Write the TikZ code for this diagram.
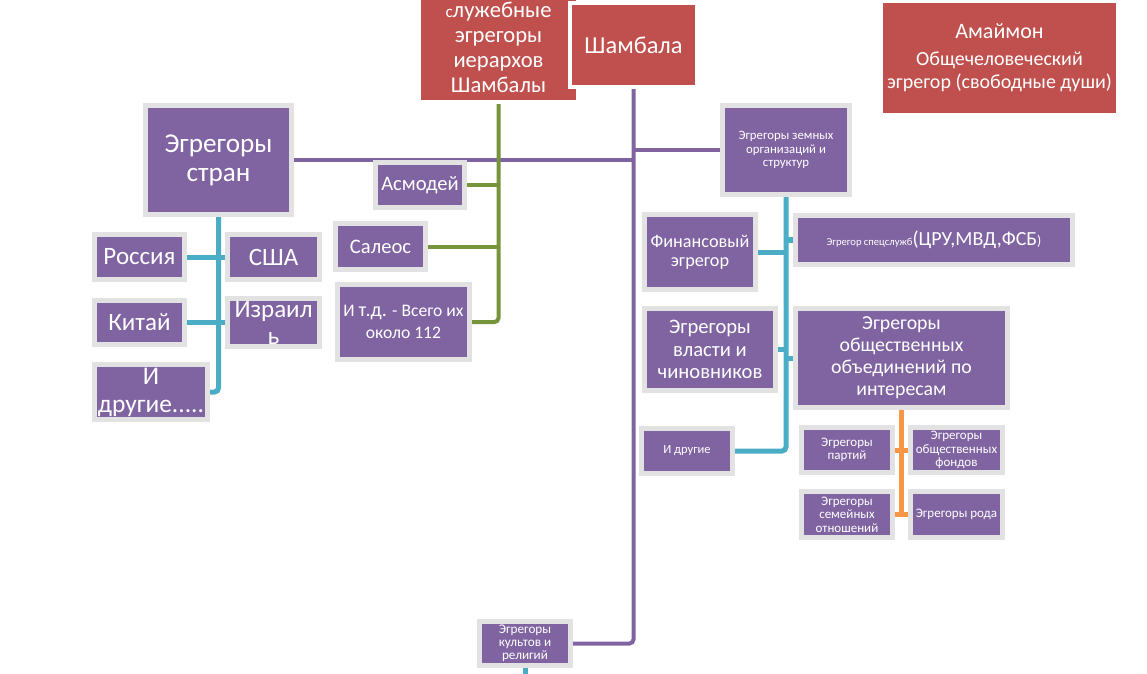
\documentclass[tikz,border=0pt]{standalone}
\usepackage{fontspec}
\setmainfont{Carlito}
\definecolor{EgrLila}{RGB}{128,100,162}
\definecolor{EgrRot}{RGB}{192,80,77}
\definecolor{EgrGruen}{RGB}{119,147,60}
\definecolor{EgrTuerkis}{RGB}{75,172,198}
\definecolor{EgrOrange}{RGB}{247,150,70}
\definecolor{EgrRand}{RGB}{226,226,226}
\newcommand{\schrift}[2]{\fontsize{#1}{#2}\selectfont}
\pgfdeclarelayer{bg}
\pgfsetlayers{bg,main}

\begin{document}
\begin{tikzpicture}[x=0.5pt,y=-0.5pt,
    bx/.style={fill=EgrLila,draw=EgrRand,line width=2.5pt,text=white,align=center,inner sep=1pt},
    rt/.style={fill=EgrRot,draw=white,line width=2pt,text=white,align=center,inner sep=1pt},
    gr/.style 2 args={minimum width=#1pt,minimum height=#2pt},
    lnLila/.style={draw=EgrLila,line width=2pt,rounded corners=2pt},
    lnGruen/.style={draw=EgrGruen,line width=2pt,rounded corners=2pt},
    lnTuerkis/.style={draw=EgrTuerkis,line width=2.5pt,rounded corners=2pt},
    lnOrange/.style={draw=EgrOrange,line width=2.5pt}]
  \useasboundingbox (0,0) rectangle (1147,674);

  % oben
  \node[rt,gr={79.5}{54.5},font=\schrift{11.3}{12.5}] (slug) at (498.5,47.5)
    {{\schrift{8.5}{12.5}с}лужебные\\эгрегоры\\иерархов\\Шамбалы};
  \node[rt,gr={63.5}{42},font=\schrift{12.2}{14}] (shamb) at (633.5,45) {Шамбала};
  \node[rt,draw=none,gr={116.5}{55},font=\schrift{10}{11.5}] (amai) at (999.5,58)
    {{\schrift{11}{12}Амаймон}\\[2pt]Общечеловеческий\\эгрегор (свободные души)};

  % links: Laender
  \node[bx,gr={73}{54.5},font=\schrift{13.6}{14.5}] (stran) at (218.5,160) {Эгрегоры\\стран};
  \node[bx,gr={45}{22.5},font=\schrift{12.5}{14}] (ros) at (139.5,257) {Россия};
  \node[bx,gr={46}{22.5},font=\schrift{12.5}{14}] (usa) at (273.5,257) {США};
  \node[bx,gr={45}{22},font=\schrift{12.5}{14}] (kit) at (139.5,322.5) {Китай};
  \node[bx,gr={46}{22},font=\schrift{12.5}{13.5}] (izr) at (273.5,322.5) {Израил\\ь};
  \node[bx,gr={56.5}{27.5},font=\schrift{12.7}{14}] (drug) at (151,392) {И\\другие.....};

  % Mitte: Diener
  \node[bx,gr={44.5}{22.5},font=\schrift{10.3}{11.5}] (asm) at (420,185) {Асмодей};
  \node[bx,gr={45}{23},font=\schrift{10.3}{11.5}] (sal) at (380.5,246.5) {Салеос};
  \node[bx,gr={66}{37.5},font=\schrift{8.8}{11}] (itd) at (403.5,322)
    {И {\schrift{10}{11}т.д.} - Всего их\\около 112};

  % rechts: Organisationen
  \node[bx,gr={63.5}{44.5},font=\schrift{6.4}{6.8}] (zemn) at (786,150)
    {Эгрегоры земных\\организаций и\\структур};
  \node[bx,gr={138.5}{24.5},font=\schrift{5.3}{7}] (spec) at (934,240)
    {Эгрегор спецслужб{\schrift{10}{12}(ЦРУ,МВД,ФСБ}{\schrift{7}{12})}};
  \node[bx,gr={55.5}{37.5},font=\schrift{9.1}{9.6}] (fin) at (700,252) {Финансовый\\эгрегор};
  \node[bx,gr={65.5}{41},font=\schrift{10.3}{11.2}] (vlast) at (710,349.5)
    {Эгрегоры\\власти и\\чиновников};
  \node[bx,gr={106}{49.5},font=\schrift{9.9}{11}] (obsh) at (901.5,358)
    {Эгрегоры\\общественных\\объединений по\\интересам};
  \node[bx,gr={45.5}{22.5},font=\schrift{6.25}{7.5}] (drug2) at (687,451) {И другие};
  \node[bx,gr={45.5}{22.5},font=\schrift{6.5}{6.8}] (part) at (847,450) {Эгрегоры\\партий};
  \node[bx,gr={46}{22.5},font=\schrift{6.5}{6.8}] (fond) at (956.5,450)
    {Эгрегоры\\общественных\\фондов};
  \node[bx,gr={45.5}{23},font=\schrift{6.5}{6.8}] (sem) at (847,514.5)
    {Эгрегоры\\семейных\\отношений};
  \node[bx,gr={46}{23},font=\schrift{6.5}{6.8}] (rod) at (956.5,514.5) {Эгрегоры рода};
  \node[bx,gr={45.5}{22},font=\schrift{6.6}{6.4}] (kult) at (525,643.5)
    {Эгрегоры\\культов и\\религий};
  \coordinate (kultEnde) at (525,674);

  \begin{pgfonlayer}{bg}
    \draw[lnLila] (shamb.south) -- (shamb.south |- kult.east) -- (kult.east);
    \draw[lnLila] (stran.east) -- (stran.east -| shamb.south);
    \draw[lnLila] (zemn.west) -- (zemn.west -| shamb.south);
    \draw[lnGruen] (slug.south) -- (slug.south |- itd.east) -- (itd.east);
    \draw[lnGruen] (asm.east) -- (asm.east -| slug.south);
    \draw[lnGruen] (sal.east) -- (sal.east -| slug.south);
    \draw[lnTuerkis] (stran.south) -- (stran.south |- drug.east) -- (drug.east);
    \draw[lnTuerkis] (ros.east) -- (usa.west);
    \draw[lnTuerkis] (kit.east) -- (izr.west);
    \draw[lnTuerkis] (zemn.south) -- (zemn.south |- drug2.east) -- (drug2.east);
    \draw[lnTuerkis] (fin.east) -- (fin.east -| zemn.south);
    \draw[lnTuerkis] (spec.west) -- (spec.west -| zemn.south);
    \draw[lnTuerkis] (vlast.east) -- (vlast.east -| zemn.south);
    \draw[lnTuerkis] (obsh.west) -- (obsh.west -| zemn.south);
    \draw[lnTuerkis] (kult.south) -- (kultEnde);
    \draw[lnOrange] (obsh.south) -- (obsh.south |- sem.east);
    \draw[lnOrange] (part.east) -- (fond.west);
    \draw[lnOrange] (sem.east) -- (rod.west);
  \end{pgfonlayer}
\end{tikzpicture}
\end{document}
